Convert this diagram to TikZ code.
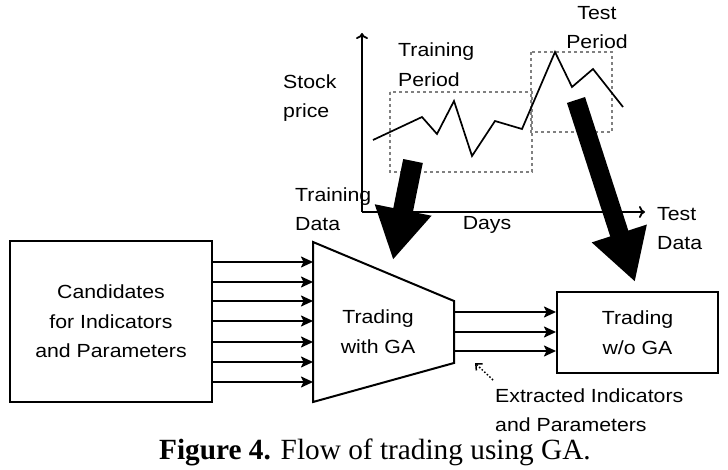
\documentclass[tikz,border=0pt]{standalone}
\usepackage{fontspec}
\setmainfont{Liberation Serif}
\newfontfamily\hv[FakeStretch=1.12]{Liberation Sans}
\usetikzlibrary{arrows.meta}
\begin{document}
\begin{tikzpicture}[x=1pt,y=-1pt,
  lbl/.style={font=\hv\fontsize{19}{29.5}\selectfont, inner sep=0pt, align=center},
  lbll/.style={lbl, align=left},
  box/.style={draw, line width=2pt, inner sep=0pt},
  feed/.style={line width=2pt, -{Stealth[length=12pt,width=11pt,inset=2.5pt]}},
  axis/.style={line width=1.8pt, -{To[length=6pt,width=12pt]}},
  period/.style={draw=gray, line width=1.5pt, dash pattern=on 3pt off 3pt},
  bigarrow/.style={line width=20pt, -{Triangle[length=51pt,width=54pt]}},
  dotarrow/.style={line width=1.5pt, dotted, -{Straight Barb[length=5pt,width=9pt]}},
]
\useasboundingbox[fill=white] (0,0) rectangle (728,470);

% ---- chart ----
\coordinate (O) at (362,212);
\coordinate (ytop) at (362,33);
\coordinate (xend) at (645,212);
\draw[axis] (O) -- (ytop);
\draw[axis] (O) -- (xend);
\draw[period] (390,92) rectangle (532,172);
\draw[period] (531,52) rectangle (612,132);
\draw[line width=1.7pt, line join=miter] plot coordinates {(373,140) (422,117) (437,134) (454,101) (472,156) (495,121) (522,129) (555,52) (572,87) (593,69) (623,107)};

\node[lbll, anchor=west] (stock) at (283,98) {Stock\\price};
\node[lbll, anchor=west] (trainp) at (398,64.5) {Training\\Period};
\node[lbl] (testp) at (597,27.5) {Test\\Period};
\node[lbll, anchor=west] (traind) at (295,209) {Training\\Data};
\node[lbl] (days) at (487,225) {Days};
\node[lbll, anchor=west] (testd) at (657,228.5) {Test\\Data};

% ---- flow ----
\node[box, minimum width=202pt, minimum height=161pt] (cand) at (111,321.5) {};
\node[lbl] at (cand.center) {Candidates\\for Indicators\\and Parameters};

\coordinate (tl1) at (313,242);
\coordinate (tr1) at (454,301);
\coordinate (tr2) at (454,363);
\coordinate (tl2) at (313,402);
\draw[line width=2pt, line join=miter] (tl1) -- (tr1) -- (tr2) -- (tl2) -- cycle;
\node[lbl] (ga) at (378,331.5) {Trading\\with GA};

\node[box, minimum width=161pt, minimum height=81pt] (wo) at (637.5,332.5) {};
\node[lbl] at (wo.center) {Trading\\w/o GA};

\foreach \y [count=\i] in {262,282,301,321,342,362,382} {
  \coordinate (r\i) at (0,\y);
  \draw[feed] (cand.east |- r\i) -- (tl1 |- r\i);
}
\foreach \y [count=\i] in {312,332,351} {
  \coordinate (s\i) at (0,\y);
  \draw[feed] (tr1 |- s\i) -- (wo.west |- s\i);
}

\node[lbll, anchor=west] (extr) at (495,410) {Extracted Indicators\\and Parameters};
\coordinate (dotS) at (493,380);
\coordinate (dotE) at (475,363);
\draw[dotarrow] (dotS) -- (dotE);

% ---- big arrows ----
\coordinate (ta) at (413,161);
\coordinate (tb) at (393,260);
\coordinate (xa) at (576,100);
\coordinate (xb) at (635,282);
\draw[bigarrow] (ta) -- (tb);
\draw[bigarrow, line width=19pt] (xa) -- (xb);

% ---- caption ----
\node[font=\fontsize{29.3}{32}\selectfont, inner sep=0pt] (cap) at (375,452) {\textbf{Figure 4.} Flow of trading using GA.};
\end{tikzpicture}
\end{document}
